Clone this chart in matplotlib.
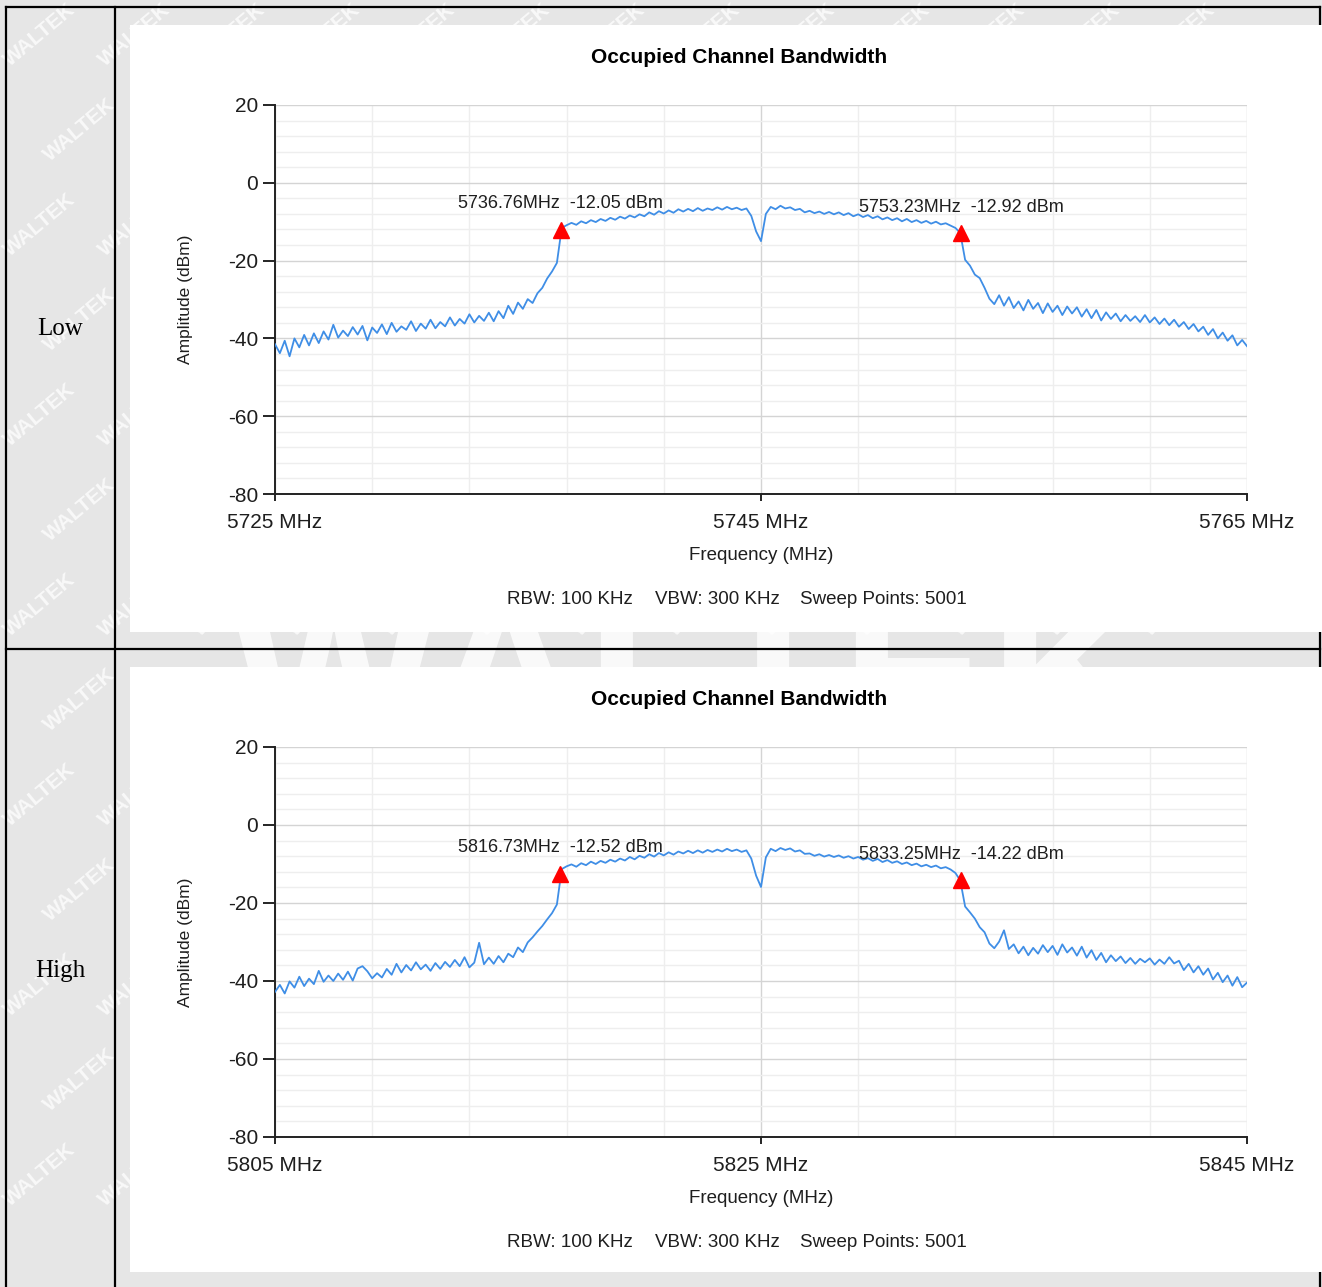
import numpy as np
import matplotlib.pyplot as plt
from matplotlib.patches import Rectangle
from matplotlib.lines import Line2D
from matplotlib.transforms import Bbox
from matplotlib.ticker import MultipleLocator, FixedLocator

plt.rcParams['axes.unicode_minus'] = False
plt.rcParams['font.family'] = ['Liberation Sans Narrow', 'Liberation Sans', 'DejaVu Sans']

# row labels of the table
row_names = ["Low", "High"]

# frequency span of each sweep (MHz): start, centre, stop
spans = [(5725, 5745, 5765), (5805, 5825, 5845)]

# amplitude, one value every 0.2 MHz (dBm)
low_amp = [
    -41.5, -43.8, -40.6, -44.6, -40.0, -42.3, -39.1, -41.8, -38.7, -41.2,
    -38.2, -40.3, -36.5, -39.8, -38.0, -39.4, -37.1, -39.0, -36.8, -40.5,
    -37.2, -38.6, -36.4, -38.9, -36.0, -38.3, -36.9, -37.8, -35.6, -38.1,
    -36.2, -37.5, -35.2, -37.4, -35.8, -36.9, -34.6, -36.7, -35.0, -36.2,
    -33.8, -35.9, -34.2, -35.5, -33.4, -35.6, -33.0, -34.8, -31.6, -33.7,
    -30.8, -32.4, -29.9, -30.9, -28.4, -27.0, -24.6, -22.8, -20.6, -11.6,
    -10.9, -10.3, -10.8, -9.9, -10.4, -9.6, -10.1, -9.3, -9.8, -9.0,
    -9.5, -8.7, -9.2, -8.4, -8.9, -8.1, -8.6, -7.6, -8.2, -7.3,
    -7.9, -7.1, -7.7, -6.8, -7.4, -6.7, -7.3, -6.5, -7.2, -6.6,
    -7.0, -6.3, -6.9, -6.2, -6.8, -6.4, -7.0, -6.6, -8.5, -12.5,
    -15.0, -8.0, -6.2, -6.8, -5.9, -6.6, -6.3, -7.0, -6.7, -7.6,
    -7.2, -7.8, -7.4, -8.0, -7.5, -8.1, -7.6, -8.3, -7.8, -8.6,
    -8.1, -8.8, -8.3, -9.1, -8.6, -9.4, -8.9, -9.6, -9.1, -9.9,
    -9.3, -10.1, -9.6, -10.3, -9.8, -10.5, -10.0, -10.7, -10.4, -11.0,
    -11.6, -12.9, -19.8, -21.3, -23.6, -24.5, -27.0, -29.8, -31.2, -28.9,
    -31.6, -29.4, -32.2, -30.5, -32.8, -30.1, -32.4, -30.9, -33.5, -31.0,
    -33.2, -31.6, -34.0, -31.8, -33.6, -32.0, -34.4, -32.5, -34.8, -32.7,
    -35.4, -33.3, -35.0, -33.6, -35.6, -34.0, -35.5, -34.3, -35.8, -34.0,
    -35.9, -34.6, -36.3, -34.9, -36.6, -35.2, -37.0, -35.8, -37.6, -36.3,
    -38.2, -37.0, -39.1, -37.6, -40.0, -38.5, -40.6, -39.2, -41.8, -40.4,
    -42.0,
]

high_amp = [
    -42.8, -41.0, -43.2, -40.1, -41.7, -38.9, -41.3, -39.4, -40.8, -37.4,
    -40.2, -38.6, -40.0, -38.1, -39.7, -37.6, -39.9, -36.8, -36.2, -37.5,
    -39.3, -38.0, -39.1, -36.9, -38.4, -35.6, -37.8, -35.9, -37.3, -35.2,
    -37.0, -35.8, -37.4, -35.4, -36.9, -35.1, -36.4, -34.6, -36.2, -33.9,
    -36.5, -35.3, -30.2, -35.7, -34.0, -35.6, -33.6, -35.2, -33.0, -33.9,
    -31.4, -32.6, -30.1, -28.8, -27.3, -25.9, -24.2, -22.6, -20.4, -11.3,
    -10.6, -10.1, -10.7, -9.8, -10.3, -9.4, -10.0, -9.2, -9.7, -8.9,
    -9.4, -8.6, -9.1, -8.2, -8.8, -7.9, -8.4, -7.5, -8.1, -7.2,
    -7.8, -7.0, -7.6, -6.8, -7.3, -6.6, -7.2, -6.5, -7.1, -6.4,
    -6.9, -6.3, -6.8, -6.1, -6.7, -6.3, -6.9, -6.5, -8.6, -13.0,
    -15.9, -8.3, -6.1, -6.7, -5.9, -6.4, -6.0, -6.8, -6.5, -7.4,
    -7.3, -7.9, -7.5, -8.1, -7.7, -8.2, -7.8, -8.4, -8.0, -8.6,
    -8.2, -8.9, -8.5, -9.2, -8.7, -9.5, -9.0, -9.7, -9.3, -10.0,
    -9.6, -10.3, -9.9, -10.6, -10.2, -10.8, -10.4, -11.1, -10.8, -11.4,
    -12.3, -14.2, -20.9, -22.4, -24.0, -26.2, -27.5, -30.4, -31.6, -29.9,
    -27.0, -31.8, -30.6, -32.9, -31.2, -33.4, -31.5, -33.0, -30.8, -32.6,
    -31.0, -33.3, -30.6, -32.7, -31.4, -33.5, -31.2, -34.0, -32.1, -34.6,
    -32.8, -35.2, -33.4, -34.9, -33.7, -35.4, -34.1, -35.6, -34.3, -35.2,
    -34.2, -35.8, -34.5, -35.6, -33.9, -35.5, -34.8, -37.2, -35.6, -37.8,
    -36.2, -38.4, -36.8, -39.6, -37.9, -40.3, -38.6, -41.2, -39.0, -41.6,
    -40.4,
]

# OBW markers: (frequency MHz, level dBm)
low_markers = [(5736.76, -12.05), (5753.23, -12.92)]
high_markers = [(5816.73, -12.52), (5833.25, -14.22)]

W, H = 1322, 1287
fig = plt.figure(figsize=(W / 100, H / 100), dpi=100, facecolor='#e6e6e6')


def fx(x):
    return x / W


def fy(y):
    return 1 - y / H


# watermark tiled over the grey page (mostly hidden under the chart images)
for gy in range(35, 1260, 95):
    for gx in range(40, 1240, 95):
        fig.text(fx(gx + (gy // 95 % 2) * 40), fy(gy), "WALTEK", rotation=40,
                 fontsize=15, fontweight='bold', color='white', alpha=0.75,
                 family='Liberation Sans', ha='center', va='center', zorder=-3)
big = fig.text(fx(690), fy(690), "WALTEK", fontsize=160, fontweight='bold',
               color='white', alpha=0.8, family='Liberation Sans',
               ha='center', va='center', zorder=-2.5)
big.set_clip_box(Bbox.from_extents(0, H - 667, W, H - 632))
big.set_clip_on(True)

# table borders
lw_tab = 1.6
for (x0, y0, x1, y1) in [(6, 7, 1320, 7), (6, 7, 6, 1287), (115, 7, 115, 1287),
                         (6, 649, 1320, 649), (1320, 7, 1320, 1287)]:
    fig.add_artist(Line2D([fx(x0), fx(x1)], [fy(y0), fy(y1)], color='black',
                          lw=lw_tab, zorder=-2))

# white chart backgrounds
for (top, bot) in [(25, 632), (667, 1272)]:
    fig.add_artist(Rectangle((fx(130), fy(bot)), fx(1322) - fx(130), fy(top) - fy(bot),
                             facecolor='white', edgecolor='none', zorder=-1))

for name, yc in zip(row_names, [329, 971]):
    fig.text(fx(60), fy(yc), name, family='Liberation Serif', fontsize=18,
             ha='center', va='center', color='black')

panels = [
    (spans[0], low_amp, low_markers, 105, 494),
    (spans[1], high_amp, high_markers, 747, 1137),
]

txt_col = '#1e1e1e'
for (f0, fc, f1), amps, markers, top, bot in panels:
    ax = fig.add_axes([fx(275), fy(bot), fx(1247) - fx(275), fy(top) - fy(bot)])
    ax.set_facecolor('none')
    freqs = np.linspace(f0, f1, len(amps))
    ax.plot(freqs, amps, color='#3f8ee6', lw=1.3, zorder=3)
    for mf, ml in markers:
        ax.plot([mf], [ml], marker='^', ms=11, color='#ff0000', mec='#ff0000', zorder=4)
        ax.annotate(f"{mf:.2f}MHz  {ml:.2f} dBm", (mf, ml), xytext=(0, 26),
                    textcoords='offset pixels', ha='center', va='center',
                    fontsize=13, color=txt_col, zorder=5)

    ax.set_xlim(f0, f1)
    ax.set_ylim(-80, 20)
    ax.xaxis.set_major_locator(FixedLocator([f0, fc, f1]))
    ax.set_xticklabels([f"{v} MHz" for v in (f0, fc, f1)])
    ax.xaxis.set_minor_locator(FixedLocator(np.arange(f0, f1 + 1, 4)))
    ax.yaxis.set_major_locator(MultipleLocator(20))
    ax.yaxis.set_minor_locator(MultipleLocator(4))
    ax.grid(which='minor', color='#eeeeee', lw=1.0, zorder=0)
    ax.grid(which='major', color='#d4d4d4', lw=1.0, zorder=0)
    ax.set_axisbelow(True)
    for s in ['top', 'right']:
        ax.spines[s].set_visible(False)
    for s in ['left', 'bottom']:
        ax.spines[s].set_linewidth(1.4)
        ax.spines[s].set_color('#222222')
    ax.tick_params(which='minor', length=0)
    ax.tick_params(axis='x', which='major', length=5, width=1.2, pad=9,
                   labelsize=15, labelcolor=txt_col)
    ax.tick_params(axis='y', which='major', length=9, width=1.2, pad=3,
                   labelsize=15, labelcolor=txt_col)

    ax.text(0.4774, 1.123, "Occupied Channel Bandwidth", transform=ax.transAxes,
            ha='center', va='center', fontsize=15, fontweight='bold', color='black')
    ax.text(0.5, -0.157, "Frequency (MHz)", transform=ax.transAxes,
            ha='center', va='center', fontsize=13.5, color=txt_col)
    ax.text(-0.0916, 0.5, "Amplitude (dBm)", transform=ax.transAxes, rotation=90,
            ha='center', va='center', fontsize=12.5, color=txt_col)
    for label, xc in [("RBW: 100 KHz", 570), ("VBW: 300 KHz", 717),
                      ("Sweep Points: 5001", 883)]:
        ax.text((xc - 275) / 972, -0.271, label, transform=ax.transAxes,
                ha='center', va='center', fontsize=13.5, color=txt_col)

fig.savefig("out.png", dpi=100, facecolor=fig.get_facecolor())
